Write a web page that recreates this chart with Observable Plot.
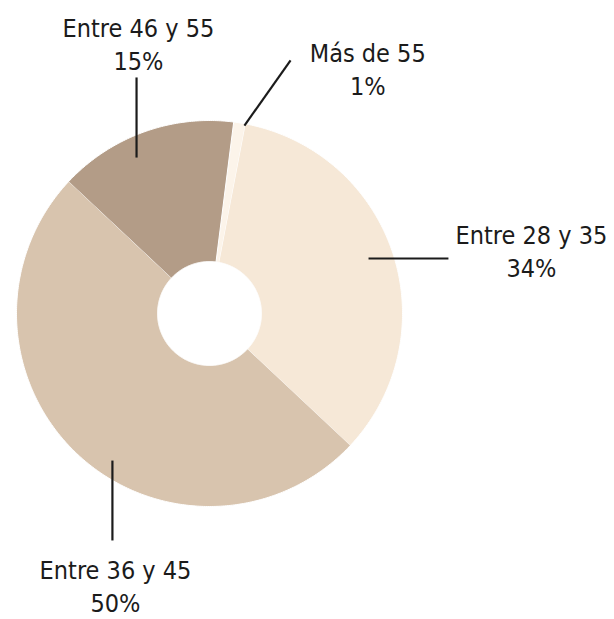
<!DOCTYPE html>
<html>
<head>
<meta charset="utf-8">
<script src="https://cdn.jsdelivr.net/npm/d3@7"></script>
<script src="https://cdn.jsdelivr.net/npm/@observablehq/plot@0.6"></script>
<style>
  html, body { margin: 0; padding: 0; background: #ffffff; }
  #chart svg { display: block; }
</style>
</head>
<body>
<div id="chart"></div>
<script>
// ---- data ----
const categories = ["Más de 55", "Entre 28 y 35", "Entre 36 y 45", "Entre 46 y 55"];
const values = [1, 34, 50, 15];
const colors = ["#fcf4ea", "#f6e8d7", "#d8c4ae", "#b39c87"];

// ---- layout (unit = outer radius) ----
const R = 193;             // outer radius in px
const cx = 209, cy = 313;  // centre in px
const W = 614, H = 619;
const inner = 52 / R;
const startDeg = 7.2;

// annotation layout per category: leader start/end and label anchor (unit coords)
const leaders = [
  {x1: 0.181, y1: 0.974, x2: 0.420, y2: 1.311, lx: 0.820, ly: 1.130},
  {x1: 0.824, y1: 0.285, x2: 1.238, y2: 0.285, lx: 1.668, ly: 0.187},
  {x1: -0.503, y1: -0.762, x2: -0.503, y2: -1.176, lx: -0.487, ly: -1.549},
  {x1: -0.378, y1: 0.808, x2: -0.378, y2: 1.223, lx: -0.368, ly: 1.264}
];

const slices = d3.pie().sort(null)
  .startAngle(startDeg * Math.PI / 180)
  .endAngle(startDeg * Math.PI / 180 + 2 * Math.PI)(values);

// polygon outline for each slice
const pts = [];
slices.forEach((s, i) => {
  const n = Math.max(4, Math.ceil((s.endAngle - s.startAngle) / 0.01));
  for (let k = 0; k <= n; k++) {
    const a = s.startAngle + (s.endAngle - s.startAngle) * k / n;
    pts.push({cat: categories[i], x: Math.sin(a), y: Math.cos(a)});
  }
  for (let k = n; k >= 0; k--) {
    const a = s.startAngle + (s.endAngle - s.startAngle) * k / n;
    pts.push({cat: categories[i], x: inner * Math.sin(a), y: inner * Math.cos(a)});
  }
});

const labels = categories.map((c, i) => ({
  ...leaders[i],
  text: `${c}\n${values[i]}%`
}));

const font = "'DejaVu Sans Condensed', 'Liberation Sans Narrow', 'DejaVu Sans', sans-serif";

const chart = Plot.plot({
  width: W,
  height: H,
  margin: 0,
  x: {domain: [-cx / R, (W - cx) / R], range: [0, W], axis: null},
  y: {domain: [(cy - H) / R, cy / R], range: [H, 0], axis: null},
  color: {domain: categories, range: colors},
  style: {background: "#ffffff"},
  marks: [
    Plot.line(pts, {x: "x", y: "y", z: "cat", fill: "cat", stroke: "#ffffff", strokeWidth: 1, curve: "linear"}),
    Plot.link(labels, {x1: "x1", y1: "y1", x2: "x2", y2: "y2", stroke: "#1b1b1b", strokeWidth: 2.2}),
    Plot.text(labels, {
      x: "lx", y: "ly", text: "text",
      lineAnchor: "bottom", textAnchor: "middle",
      lineHeight: 1.32,
      fontSize: 25, fontFamily: font, fill: "#1b1b1b"
    })
  ]
});

document.getElementById("chart").appendChild(chart);
</script>
</body>
</html>
